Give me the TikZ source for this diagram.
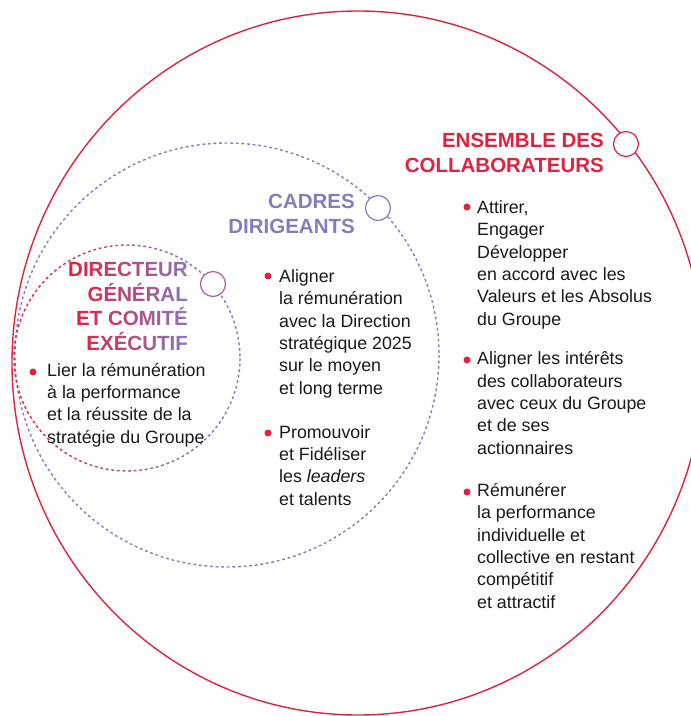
\documentclass[tikz,border=0pt]{standalone}
\usepackage{fontspec}
\setmainfont{Liberation Sans}
\usetikzlibrary{positioning}
\definecolor{rougeg}{RGB}{224,34,64}
\definecolor{violetg}{RGB}{133,124,190}
\definecolor{mauveg}{RGB}{176,92,146}
\definecolor{texteg}{RGB}{25,25,25}
\tikzset{
  %% circle outlines
  cercle/.style={line width=1.4pt},
  pointille/.style={line width=1.4pt,dash pattern=on 2.8pt off 2.8pt},
  %% small white marker sitting on a circle
  repere/.style={circle,draw=#1,fill=white,line width=1.2pt,
    minimum size=25pt,inner sep=0pt},
  %% group titles (placed by the baseline of their last line)
  titre/.style={anchor=base east,align=right,inner sep=0pt,text=#1,
    font=\fontsize{20.5}{24.5}\selectfont\bfseries},
  %% bullet text (placed by the baseline of its last line)
  texte/.style={anchor=base west,align=left,inner sep=0pt,text=texteg,
    font=\fontsize{17.8}{22.3}\selectfont},
  puce/.style={circle,fill=rougeg,minimum size=7pt,inner sep=0pt},
}
\begin{document}
\begin{tikzpicture}[x=1pt,y=-1pt]
  \useasboundingbox (0,0) rectangle (691,716);
  %% circles
  \draw[cercle,draw=rougeg] (358,363) ellipse [x radius=346,y radius=352];
  \draw[pointille,draw=violetg] (227,355) circle [radius=212];
  % red to violet, left to right, in strips
  \foreach \i in {0,...,23}{
    \pgfmathtruncatemacro{\pc}{max(0,min(100,(10*\i-15)/2))}
    \begin{scope}
      \clip (10+10*\i,238) rectangle (20+10*\i,478);
      \draw[pointille,draw=violetg!\pc!rougeg] (127,358) circle [radius=113];
    \end{scope}
  }

  %% markers
  \node[repere=rougeg]  (mEns) at (626,144) {};
  \node[repere=violetg] (mCad) at (378,208) {};
  \node[repere=mauveg]  (mDir) at (213,284) {};

  %% titles
  \node[titre=rougeg]  (tEns) at (604,172) {ENSEMBLE DES\\COLLABORATEURS};
  \node[titre=violetg] (tCad) at (355,233) {CADRES\\DIRIGEANTS};
  \foreach \i in {0,...,13}{
    \pgfmathtruncatemacro{\pc}{max(0,min(100,(10*\i-10)*0.87))}
    \begin{scope}
      \clip (60+10*\i,255) rectangle (70+10*\i,360);
      \node[titre=violetg!\pc!rougeg] (tDir\i) at (188,350) {DIRECTEUR\\GÉNÉRAL\\ET COMITÉ\\EXÉCUTIF};
    \end{scope}
  }

  %% bullets
  \node[texte] (xDir) at (47,443) {Lier la rémunération\\à la performance\\et la réussite de la\\stratégie du Groupe};
  \node[puce] (pDir) at (33,372) {};

  \node[texte] (xCad1) at (279,394) {Aligner\\la rémunération\\avec la Direction\\stratégique 2025\\sur le moyen\\et long terme};
  \node[puce] (pCad1) at (268,276) {};
  \node[texte] (xCad2) at (279,505) {Promouvoir\\et Fidéliser\\les \textit{leaders}\\et talents};
  \node[puce] (pCad2) at (268,433) {};

  \node[texte] (xEns1) at (477,325) {Attirer,\\Engager\\Développer\\en accord avec les\\Valeurs et les Absolus\\du Groupe};
  \node[puce] (pEns1) at (467,207) {};
  \node[texte] (xEns2) at (477,454) {Aligner les intérêts\\des collaborateurs\\avec ceux du Groupe\\et de ses\\actionnaires};
  \node[puce] (pEns2) at (467,360) {};
  \node[texte] (xEns3) at (477,608) {Rémunérer\\la performance\\individuelle et\\collective en restant\\compétitif\\et attractif};
  \node[puce] (pEns3) at (467,492) {};
\end{tikzpicture}
\end{document}
